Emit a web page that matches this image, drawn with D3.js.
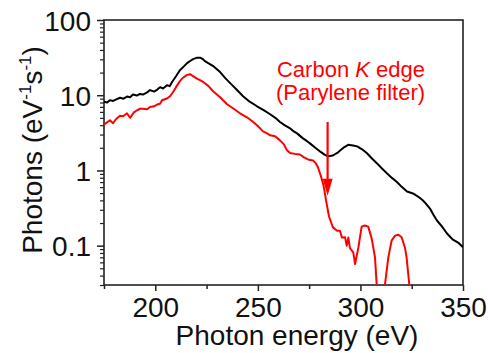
<!DOCTYPE html>
<html><head><meta charset="utf-8">
<script src="https://cdn.jsdelivr.net/npm/d3@7/dist/d3.min.js"></script>
<style>html,body{margin:0;padding:0;background:#fff;}svg{display:block;font-family:Arial,"Liberation Sans",sans-serif;}</style>
</head><body><svg id="c" width="488" height="353"></svg>
<script>
// Photon energy (eV) and photons (eV^-1 s^-1): without filter (black)
const blackE = [175,176.5,177.9,179.4,181,182.8,184.5,186.2,187.7,189.1,191,192.5,194,196,197.4,199.4,201,202.3,203.8,205.7,207,208.1,210.1,212,213.8,215.5,217,218.4,220.4,221.8,223,224.2,226,228.2,231.6,234,236.5,239.5,242.8,246,249.6,253,256,258.5,260.8,263,265.7,267.5,269.1,272,274,275.4,278,280.3,282.5,284.2,286.6,289.1,292,294,296.4,298.4,300.8,303.2,305.5,308.1,310.5,313,315.5,317.8,320,322.7,325.6,328.1,330.5,332,333.9,335.5,337.3,339.8,342.2,345.1,347.6,350];
const blackV = [8.19,8.0,8.6,8.4,8.8,9.26,9.0,9.6,9.4,10.2,9.9,10.4,10.2,10.9,11.7,11.2,11.9,12.8,12.3,13.6,13.2,14.9,17.9,21.5,24,26.7,28.5,30.2,31.6,31.6,30.5,28.4,26.5,24.4,20.3,17,14.5,12,9.7,8.2,7.13,6.3,5.58,5.0,4.41,4.0,3.63,3.3,3.11,2.67,2.45,2.29,2.0,1.79,1.62,1.54,1.58,1.74,2.03,2.19,2.15,2.09,1.91,1.69,1.45,1.24,1.06,0.912,0.79,0.703,0.61,0.525,0.494,0.45,0.398,0.36,0.311,0.26,0.216,0.179,0.145,0.12,0.11,0.0955];
// with Parylene filter (red); values below the axis floor are drawn off the plot
const redE = [175,176.5,177.9,179.4,180.8,182.8,184.3,186.2,187.7,189.6,191.1,192.5,194,196,197.4,199.4,201.3,202.3,203.3,204.7,205.7,207.2,208.6,210.1,212,213.5,215.3,216.9,218.4,220.3,221.8,223.3,225.7,228.2,231.6,235,238.9,241.3,244.7,247.6,250.1,252.5,254.5,256,258.4,260.8,262.7,264.2,265.7,268.1,270.5,272.5,274.4,276.9,278.3,279.3,280.8,282,282.7,283.6,284.7,286.6,288.6,290,291,292.5,293.3,294.1,294.9,296.5,297.4,299,300.6,302.2,303.8,305.5,307.1,307.9,308.6,311.4,312,313.6,315.2,316.9,318.5,320.1,321.7,322.5,323.3,323.8,324.4];
const redV = [4.04,4.37,4.64,4.24,4.79,5.33,5.25,5.75,5.01,5.93,6.31,6.61,6.61,6.51,6.98,7.13,7.59,7.71,8.58,8.85,9.04,9.7,10.96,12.8,15.4,17.1,18.5,19.05,17.9,16.6,15.85,15.0,13.4,11.3,9.4,7.59,6.41,5.75,5.09,4.43,3.86,3.31,3.11,2.93,2.84,2.51,2.22,1.85,1.71,1.66,1.63,1.49,1.40,1.36,1.24,1.10,0.832,0.631,0.494,0.352,0.244,0.175,0.158,0.158,0.128,0.129,0.1,0.128,0.0926,0.0815,0.057,0.0948,0.179,0.185,0.179,0.124,0.0699,0.0311,0.005,0.005,0.0311,0.0699,0.1166,0.136,0.14,0.129,0.094,0.07,0.042,0.0311,0.005];
const xTicks = [200,250,300,350];
const xMinor = [175,225,275,325];
const yTicks = [0.1,1,10,100];
const yTickLabels = ["0.1","1","10","100"];
const xTitle = "Photon energy (eV)";
const noteLines = ["Carbon ", "K", " edge", "(Parylene filter)"];
const arrowE = 284, arrowFrom = 4.4, arrowTo = 0.46;

const svg = d3.select("#c");
const L = 104, R = 463, T = 20, B = 285;
const x = d3.scaleLinear().domain([175,350]).range([L,R]);
const y = d3.scaleLog().domain([0.03,100]).range([B,T]);
const FS = 28;

svg.append("defs").append("clipPath").attr("id","pc")
  .append("rect").attr("x",L).attr("y",T).attr("width",R-L).attr("height",B-T);

// frame
svg.append("rect").attr("x",L).attr("y",T).attr("width",R-L).attr("height",B-T)
  .attr("fill","none").attr("stroke","#222").attr("stroke-width",1.6);

// x axis
const xa = svg.append("g").attr("transform",`translate(0,${B})`)
  .call(d3.axisBottom(x).tickValues(xTicks).tickSize(6).tickSizeOuter(0).tickPadding(6).tickFormat(d3.format("d")));
xa.select(".domain").remove();
xa.selectAll("line").attr("stroke","#222").attr("stroke-width",1.5);
xa.selectAll("text").attr("font-size",FS).attr("fill","#111").attr("font-family","Arial, 'Liberation Sans', sans-serif");
const xm = svg.append("g").attr("transform",`translate(0,${B})`)
  .call(d3.axisBottom(x).tickValues(xMinor).tickSize(4).tickFormat(""));
xm.select(".domain").remove();
xm.selectAll("line").attr("stroke","#222").attr("stroke-width",1.5);

// y axis
const ya = svg.append("g").attr("transform",`translate(${L},0)`)
  .call(d3.axisLeft(y).tickValues(yTicks).tickSize(7).tickPadding(6).tickFormat((d,i)=>yTickLabels[i]));
ya.select(".domain").remove();
ya.selectAll("line").attr("stroke","#222").attr("stroke-width",1.5);
ya.selectAll("text").attr("font-size",FS).attr("fill","#111").attr("dy","0.36em").attr("font-family","Arial, 'Liberation Sans', sans-serif");
const yMinorVals = [];
[0.01,0.1,1,10].forEach(d => { for (let k=2;k<=9;k++){ const v=d*k; if (v>=0.03 && v<100) yMinorVals.push(v);} });
const ym = svg.append("g").attr("transform",`translate(${L},0)`)
  .call(d3.axisLeft(y).tickValues(yMinorVals).tickSize(4).tickFormat(""));
ym.select(".domain").remove();
ym.selectAll("line").attr("stroke","#222").attr("stroke-width",1.2);

// lines
const line = d3.line().x(d=>x(d[0])).y(d=>y(d[1]));
const g = svg.append("g").attr("clip-path","url(#pc)");
g.append("path").datum(blackE.map((e,i)=>[e,blackV[i]]))
  .attr("d",line).attr("fill","none").attr("stroke","#000").attr("stroke-width",2).attr("stroke-linejoin","round");
g.append("path").datum(redE.map((e,i)=>[e,redV[i]]))
  .attr("d",line).attr("fill","none").attr("stroke","#ff0000").attr("stroke-width",2).attr("stroke-linejoin","round");

// arrow
const ax = x(arrowE), ay1 = y(arrowFrom), ay2 = y(arrowTo);
svg.append("line").attr("x1",ax).attr("x2",ax).attr("y1",ay1).attr("y2",ay2-14)
  .attr("stroke","#ff0000").attr("stroke-width",2.2);
svg.append("path").attr("d",`M${ax-5},${ay2-17}L${ax+5},${ay2-17}L${ax},${ay2}Z`).attr("fill","#ff0000");

// annotation
const n1 = svg.append("text").attr("x",351).attr("y",77).attr("text-anchor","middle")
  .attr("font-size",22).attr("fill","#ff0000");
n1.append("tspan").text(noteLines[0]);
n1.append("tspan").attr("font-style","italic").text(noteLines[1]);
n1.append("tspan").text(noteLines[2]);
svg.append("text").attr("x",350.5).attr("y",100).attr("text-anchor","middle")
  .attr("font-size",22).attr("fill","#ff0000").text(noteLines[3]);

// axis titles
svg.append("text").attr("x",297).attr("y",345).attr("text-anchor","middle")
  .attr("font-size",FS).attr("fill","#111").text(xTitle);
const yt = svg.append("text").attr("transform","translate(42,150) rotate(-90)").attr("text-anchor","middle")
  .attr("font-size",FS).attr("fill","#111");
yt.append("tspan").text("Photons (eV");
yt.append("tspan").attr("font-size",17).attr("dy",-11).text("-1");
yt.append("tspan").attr("dy",11).text("s");
yt.append("tspan").attr("font-size",17).attr("dy",-11).text("-1");
yt.append("tspan").attr("dy",11).text(")");
</script></body></html>
